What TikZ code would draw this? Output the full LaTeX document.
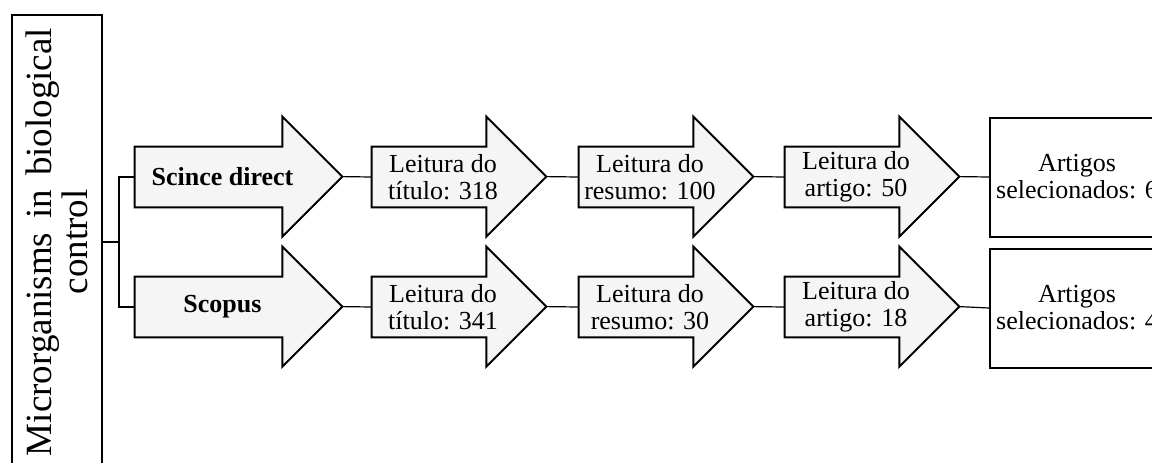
\documentclass[tikz,border=0pt]{standalone}
\usepackage{fontspec}
\setmainfont{Liberation Serif}
\usetikzlibrary{backgrounds}
\definecolor{arrowgray}{gray}{0.96}
\tikzset{stagebox/.style={minimum height=30pt,minimum width=57pt,inner sep=0pt},
 firstbox/.style={stagebox,minimum width=73.5pt},
 stagetext/.style={align=center,inner sep=0pt,xshift=7pt,font=\fontsize{13}{13.5}\selectfont},
 outline/.style={draw=black,line width=1pt,fill=arrowgray,line join=miter},
 endbox/.style={draw,line width=1pt,fill=white,minimum width=87pt,minimum height=59.5pt,
  align=center,inner sep=0pt,font=\fontsize{13}{13.5}\selectfont},
 link/.style={draw,line width=0.6pt},
 }

\begin{document}
\begin{tikzpicture}[x=0.5pt,y=-0.5pt]
        \useasboundingbox (0,0) rectangle (1152,462);
        \clip (0,0) rectangle (1152,462);
        % topic box
        \node[draw,line width=1pt,rotate=90,minimum width=227pt,minimum height=45pt,
          text width=214pt,align=center,inner sep=0pt,
          font=\fontsize{18.5}{18}\selectfont] (topic) at (57,242)
          {Microrganisms\hfill in\hfill biological\\control};
        % first row
        \node[firstbox,label={[stagetext,name=sd-t]center:\textbf{Scince direct}}] (sd) at (208.5,177) {};
        \node[stagebox,label={[stagetext,name=tit1-t]center:Leitura do\\título: 318}] (tit1) at (429,177) {};
        \node[stagebox,label={[stagetext,name=res1-t]center:Leitura do\\resumo: 100}] (res1) at (636,177) {};
        \node[stagebox,label={[stagetext,name=art1-t]center:Leitura do\\artigo: 50}] (art1) at (842,177) {};
        \node[endbox] (sel1) at (1077,177) {Artigos\\selecionados: 6};
        % second row
        \node[firstbox,label={[stagetext,name=sc-t]center:\textbf{Scopus}}] (sc) at (208.5,307) {};
        \node[stagebox,label={[stagetext,name=tit2-t]center:Leitura do\\título: 341}] (tit2) at (429,307) {};
        \node[stagebox,label={[stagetext,name=res2-t]center:Leitura do\\resumo: 30}] (res2) at (636,307) {};
        \node[stagebox,label={[stagetext,name=art2-t]center:Leitura do\\artigo: 18}] (art2) at (842,307) {};
        \node[endbox] (sel2) at (1077,308) {Artigos\\selecionados: 4};
        % arrow outlines
        \begin{scope}[on background layer]
        \foreach \n in {sd,tit1,res1,art1,sc,tit2,res2,art2}
            \draw[outline] (\n.north west) -- (\n.north east) -- ++(0,-30)
                -- ++(60,60) coordinate (\n-tip) -- ++(-60,60)
                -- (\n.south east) -- (\n.south west) -- cycle;
        \end{scope}
        % links
        \draw[link] (topic.south) -- ++(16,0) coordinate (fork);
        \draw[link] (sd.west) -| (fork) |- (sc.west);
        \foreach \a/\b in {sd/tit1,tit1/res1,res1/art1,art1/sel1,sc/tit2,tit2/res2,res2/art2,art2/sel2}
            \draw[link] (\a-tip) -- (\b.west);
    \end{tikzpicture}
\end{document}
